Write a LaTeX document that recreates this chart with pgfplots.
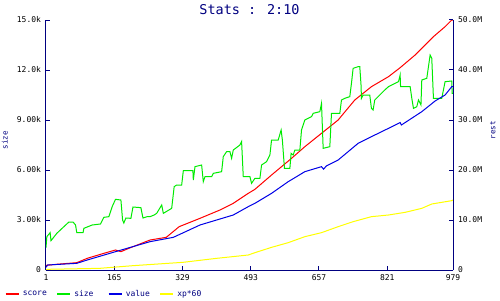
\documentclass[border=0pt]{standalone}
\usepackage{fontspec}
\setmainfont{DejaVu Sans Mono}
\setmonofont{DejaVu Sans Mono}
\usepackage{pgfplots}
\pgfplotsset{compat=1.18}
\definecolor{navyc}{RGB}{0,0,128}
\definecolor{cred}{RGB}{255,0,0}
\definecolor{cgreen}{RGB}{0,235,0}
\definecolor{cblue}{RGB}{0,0,230}
\definecolor{cyellow}{RGB}{255,255,0}
\begin{document}
\begin{tikzpicture}
\useasboundingbox (-46pt,-30pt) rectangle (454pt,270pt);
\begin{axis}[
  at={(0pt,0pt)}, anchor=south west,
  scale only axis, width=407pt, height=250pt,
  xmin=1, xmax=979, ymin=0, ymax=15000,
  scaled y ticks=false, scaled x ticks=false,
  axis x line=bottom, axis y line=left,
  axis line style={navyc, line width=1pt, -},
  tick style={navyc, line width=1pt},
  tick align=inside, major tick length=4pt,
  xtick={1,165,329,493,657,821,979},
  xticklabels={1,165,329,493,657,821,979},
  ytick={0,3000,6000,9000,12000,15000},
  yticklabels={0,3.00k,6.00k,9.00k,12.0k,15.0k},
  ticklabel style={font=\fontsize{8}{8}\selectfont, black},
  yticklabel style={xshift=-1.5pt},
  xticklabel style={yshift=-1.5pt},
  ylabel={size},
  ylabel style={at={(axis description cs:-0.101,0.52)}, anchor=center, navyc, font=\fontsize{7.5}{7.5}\selectfont},
  title={Stats : 2:10},
  every axis title shift=0pt,
  title style={at={(axis description cs:0.5,1)}, anchor=base, yshift=6pt, inner sep=0pt, navyc, font=\fontsize{13.5}{13.5}\selectfont},
  legend columns=4,
  legend style={at={(axis description cs:-0.103,-0.096)}, anchor=west, draw=none, fill=none, inner sep=0pt,
    font=\fontsize{8}{8}\selectfont, text=navyc, nodes={inner sep=0pt},
    /tikz/every even column/.append style={column sep=0pt}},
  legend cell align=left,
  legend image code/.code={\draw[line width=2.5pt] (0pt,0pt) -- (13pt,0pt);},
]
\addplot[cred, line width=1pt] coordinates {
(1,280) (30,350) (75,440) (100,700) (140,1000) (168,1200) (181,1100) (200,1300) (251,1800) (290,1960) (321,2600) (371,3100) (419,3600) (451,4000) (487,4600) (503,4840) (543,5700) (567,6200) (591,6700) (623,7400) (663,8200) (703,9000) (743,10200) (783,11000) (824,11600) (852,12140) (888,12900) (932,14000) (960,14600) (976,15000) (979,15000)
};
\addlegendentry{\hspace{3pt}\makebox[33pt][l]{score}}
\addplot[cgreen, line width=1pt] coordinates {
(1,1340) (3,2000) (11,2240) (13,1760) (27,2200) (44,2600) (56,2880) (66,2880) (72,2700) (75,2240) (90,2240) (92,2500) (112,2700) (132,2760) (140,3160) (152,3200) (160,3800) (168,4240) (181,4200) (185,3000) (188,2820) (193,3120) (205,3100) (210,3780) (229,3740) (234,3120) (244,3200) (251,3200) (261,3300) (267,3400) (279,3900) (283,3400) (303,3700) (309,5000) (315,5100) (327,5100) (331,5960) (354,5960) (355,5400) (359,6200) (375,6300) (379,5300) (383,5600) (399,5600) (403,5800) (423,5900) (427,6800) (435,7100) (443,7100) (447,6700) (451,7200) (467,7500) (471,7700) (475,5600) (491,5600) (495,5200) (503,5500) (515,5500) (519,6300) (531,6500) (539,6900) (543,7800) (559,7800) (566,8400) (569,7800) (574,6100) (587,6100) (590,7000) (595,6900) (599,7200) (611,7200) (615,8400) (623,9000) (639,9200) (643,9400) (659,9500) (663,10000) (667,7300) (683,7400) (687,9400) (707,9400) (711,10200) (719,10300) (731,10400) (735,11200) (739,12100) (751,12200) (755,12200) (758,11100) (759,10300) (763,10500) (779,10500) (783,9700) (787,9600) (791,10200) (815,10800) (824,11000) (848,11300) (852,11700) (853,11000) (876,11000) (880,10300) (884,9700) (892,9800) (896,10200) (902,9900) (904,11400) (916,11500) (924,12900) (928,12700) (932,10300) (952,10300) (960,11300) (976,11340) (977,10600) (979,10600)
};
\addlegendentry{\hspace{3pt}\makebox[33pt][l]{size}}
\addplot[cblue, line width=1pt] coordinates {
(1,160) (5,300) (75,400) (100,600) (168,1100) (251,1700) (307,1960) (371,2700) (451,3300) (487,3800) (503,4000) (543,4600) (583,5300) (623,5900) (663,6200) (668,6050) (675,6250) (703,6600) (751,7600) (783,8000) (824,8500) (852,8850) (855,8700) (904,9500) (936,10140) (960,10500) (976,11000) (979,11000)
};
\addlegendentry{\hspace{3pt}\makebox[33pt][l]{value}}
\addplot[cyellow, line width=1pt] coordinates {
(1,40) (130,100) (210,260) (330,460) (411,700) (487,900) (503,1040) (543,1360) (583,1640) (623,2000) (663,2240) (703,2600) (739,2900) (783,3200) (824,3300) (864,3460) (904,3700) (928,3960) (976,4160) (979,4200)
};
\addlegendentry{\hspace{3pt}\makebox[33pt][l]{xp*60}}
\end{axis}
\begin{axis}[
  at={(0pt,0pt)}, anchor=south west,
  scale only axis, width=407pt, height=250pt,
  xmin=1, xmax=979, ymin=0, ymax=50,
  axis x line=none, axis y line=right,
  axis line style={navyc, line width=1pt, -},
  tick style={navyc, line width=1pt},
  tick align=inside, major tick length=4pt,
  ytick={0,10,20,30,40,50},
  yticklabels={0,10.0M,20.0M,30.0M,40.0M,50.0M},
  ticklabel style={font=\fontsize{8}{8}\selectfont, black},
  yticklabel style={xshift=1.5pt},
  ylabel={rest},
  ylabel style={at={(axis description cs:1.098,0.56)}, anchor=center, navyc, font=\fontsize{7.5}{7.5}\selectfont},
]
\end{axis}
\end{tikzpicture}
\end{document}
